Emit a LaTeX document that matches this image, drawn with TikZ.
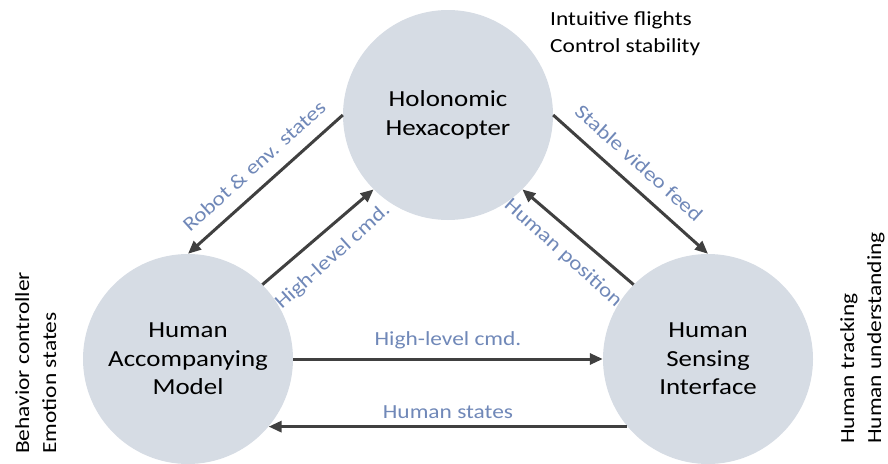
\documentclass[tikz,border=0pt]{standalone}
\usepackage{fontspec}
\setmainfont{Carlito}[FakeStretch=1.17]
\usetikzlibrary{arrows.meta}
\definecolor{disc}{HTML}{D6DCE4}
\definecolor{flow}{HTML}{404040}
\definecolor{tag}{HTML}{7088B8}
\tikzset{
  unit/.style={circle, fill=disc, draw=none, minimum size=210pt, inner sep=0pt,
    align=center, font=\fontsize{23}{28.5}\selectfont},
  link/.style={draw=flow, line width=3pt, -{Triangle[length=13pt,width=11pt]}},
  tagtext/.style={text=tag, font=\fontsize{20}{24}\selectfont, inner sep=0pt},
  sidetext/.style={align=left, inner sep=0pt, font=\fontsize{20}{27}\selectfont}
}
\begin{document}
\begin{tikzpicture}[x=1pt,y=-1pt]
\useasboundingbox (0,0) rectangle (888,463);

% the three subsystems
\node[unit] (hexa)  at (448,115) {Holonomic\\Hexacopter};
\node[unit] (model) at (188,359) {Human\\Accompanying\\Model};
\node[unit] (sense) at (708,359) {Human\\Sensing\\Interface};

% information flows between them
\draw[link] (hexa.west) -- (model.north);
\draw[link] (model.45) -- (hexa.225);
\draw[link] (hexa.east) -- (sense.north);
\draw[link] (sense.135) -- (hexa.-45);
\draw[link] (model.east) -- (sense.west);
\draw[link] (sense.220) -- (model.-40);

% flow labels
\node[tagtext, rotate=42]  (l1) at (254,166) {Robot \& env. states};
\node[tagtext, rotate=42]  (l2) at (333,257) {High-level cmd.};
\node[tagtext, rotate=-42] (l3) at (639,163) {Stable video feed};
\node[tagtext, rotate=-42] (l4) at (563,253) {Human position};
\node[tagtext]             (l5) at (448,340) {High-level cmd.};
\node[tagtext]             (l6) at (448,412) {Human states};

% functions of each subsystem
\node[sidetext, anchor=north west] (f1) at (550,11) {Intuitive flights\\Control stability};
\node[sidetext, rotate=90, anchor=north west] (f2) at (15,454) {Behavior controller\\Emotion states};
\node[sidetext, rotate=90, anchor=north west] (f3) at (840,444) {Human tracking\\Human understanding};
\end{tikzpicture}
\end{document}
